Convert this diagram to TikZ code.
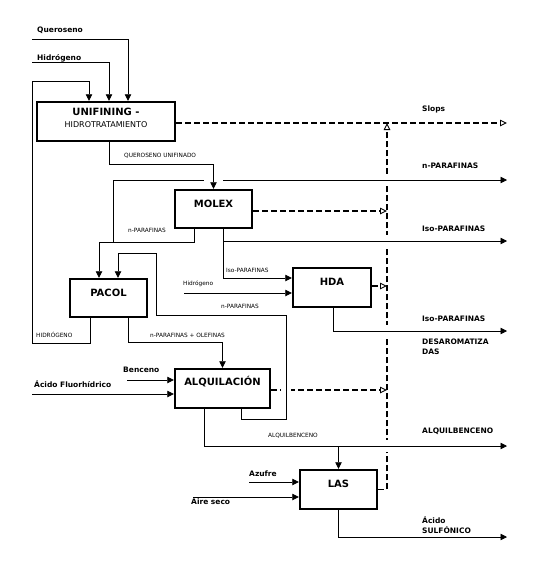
\documentclass[tikz,border=0pt]{standalone}
\usepackage{fontspec}
\setmainfont{DejaVu Sans}
\usetikzlibrary{arrows.meta}
\begin{document}
\begin{tikzpicture}[x=1pt,y=-1pt,
  box/.style={draw, line width=2.4pt, fill=white, inner sep=0pt},
  ttl/.style={font=\bfseries\fontsize{10}{12}\selectfont, text height=7.3pt, text depth=0pt, inner sep=0pt},
  lbl/.style={font=\bfseries\fontsize{7.5}{10}\selectfont, anchor=base west, inner sep=0pt},
  sml/.style={font=\fontsize{5.8}{7}\selectfont, anchor=base west, inner sep=0pt},
  ln/.style={line width=0.75pt},
  arr/.style={ln, -{Triangle[length=6.5pt,width=6.5pt]}},
  dsh/.style={line width=1.2pt, dash pattern=on 6pt off 3pt, -{Triangle[open,length=7pt,width=6.5pt,line width=0.9pt]}},
  gapfill/.style={fill=white}]
\useasboundingbox (0,0) rectangle (540,566);

% ---------- boxes ----------
\node[box, minimum width=138pt, minimum height=39pt,
  label={[name=unifT, align=center, inner sep=0pt, yshift=4pt]center:{\bfseries\fontsize{10}{12}\selectfont UNIFINING -}\\{\fontsize{8}{12}\selectfont HIDROTRATAMIENTO}}]
  (unif) at (106,121.5) {};
\node[box, minimum width=77pt, minimum height=38pt, label={[ttl, name=molexT, yshift=5.5pt]center:MOLEX}] (molex) at (213.5,209) {};
\node[box, minimum width=78pt, minimum height=39pt, label={[ttl, name=hdaT, yshift=6pt]center:HDA}] (hda) at (332,287.5) {};
\node[box, minimum width=77pt, minimum height=38pt, label={[ttl, name=pacolT, yshift=5.5pt]center:PACOL}] (pacol) at (108.5,298) {};
\node[box, minimum width=95pt, minimum height=39pt, label={[ttl, name=alqT, yshift=6.5pt]center:ALQUILACIÓN}] (alq) at (222.5,388.5) {};
\node[box, minimum width=77pt, minimum height=39pt, label={[ttl, name=lasT, yshift=5.5pt]center:LAS}] (las) at (338.5,489.5) {};

% ---------- labels ----------
\node[lbl] (tQ) at (37,32) {Queroseno};
\node[lbl] (tH) at (37,60) {Hidrógeno};
\node[sml] (tQU) at (124,157) {QUEROSENO UNIFINADO};
\node[lbl] (tSl) at (422,111) {Slops};
\node[lbl] (tnP) at (422,168) {n-PARAFINAS};
\node[lbl] (tiP) at (422,231) {Iso-PARAFINAS};
\node[sml] (snP1) at (128,232) {n-PARAFINAS};
\node[sml] (siP) at (226,272) {Iso-PARAFINAS};
\node[sml] (sH) at (183,285) {Hidrógeno};
\node[sml] (snP2) at (221,308) {n-PARAFINAS};
\node[sml] (sH2) at (36,337) {HIDRÓGENO};
\node[sml] (snPO) at (150,337) {n-PARAFINAS + OLEFINAS};
\node[lbl] (tiP2) at (422,321) {Iso-PARAFINAS};
\node[lbl] (tDes) at (422,344) {DESAROMATIZA};
\node[lbl] (tDas) at (422,354) {DAS};
\node[lbl] (tBz) at (123,372) {Benceno};
\node[lbl] (tAF) at (34,387) {Ácido Fluorhídrico};
\node[sml] (sAB) at (268,437) {ALQUILBENCENO};
\node[lbl] (tAB) at (422,433) {ALQUILBENCENO};
\node[lbl] (tAz) at (249,476) {Azufre};
\node[lbl] (tAi) at (191,504) {Aire seco};
\node[lbl] (tAc) at (422,523) {Ácido};
\node[lbl] (tSu) at (422,533) {SULFÓNICO};

% ---------- coordinates ----------
\coordinate (q0) at (32,39);
\coordinate (h0) at (32,62);
\coordinate (slopsE) at (507,123);
\coordinate (vtop) at (387,123);
\coordinate (jn1) at (113,242);
\coordinate (nparE) at (507,180);
\coordinate (jn2) at (223,241);
\coordinate (isoE) at (507,241);
\coordinate (hh) at (184,293);
\coordinate (iso2E) at (507,331);
\coordinate (bz) at (127,380);
\coordinate (af) at (32,394);
\coordinate (alqE) at (507,446);
\coordinate (jn3) at (338.5,446);
\coordinate (az) at (249,482);
\coordinate (ai) at (193,497);
\coordinate (sulE) at (507,537);

% ---------- dashed (waste) lines ----------
\draw[dsh] ([yshift=-1.5pt]unif.east) -- (slopsE);
\draw[dsh] (las.east) -- (387,489.5) -- (vtop);
\draw[dsh] ([yshift=-2pt]molex.east) -- (387,211);
\draw[dsh] ([yshift=1.5pt]hda.east) -- (387,286);
\draw[dsh] ([yshift=-1.5pt]alq.east) -- (387,390);

% gaps where solid lines pass over
\fill[gapfill] (383.5,174) rectangle (390.5,186);
\fill[gapfill] (383.5,235) rectangle (390.5,247);
\fill[gapfill] (383.5,325) rectangle (390.5,337);
\fill[gapfill] (383.5,440) rectangle (390.5,452);
\fill[gapfill] (281,385) rectangle (291,395);

% n-PARAFINAS output (passes under the unifined kerosene line)
\draw[arr] (jn1) |- (nparE);
\fill[gapfill] (204,176) rectangle (223,184);

% ---------- solid connectors ----------
\draw[arr] (q0) -| ([xshift=22pt]unif.north);
\draw[arr] (h0) -| ([xshift=3pt]unif.north);
\draw[arr] ([xshift=-18.5pt]pacol.south) -- (90,343) -| (32,81) -| ([xshift=-17pt]unif.north);
\draw[arr] ([xshift=3pt]unif.south) |- (213.5,164) -- (molex.north);
\draw[arr] ([xshift=-19.5pt]molex.south) |- (99,242) -- ([xshift=-9.5pt]pacol.north);
\draw[arr] ([xshift=9.5pt]molex.south) |- ([yshift=9.5pt]hda.west);
\draw[arr] (jn2) -- (isoE);
\draw[arr] (hh) -- (hh -| hda.west);
\draw[arr] ([xshift=1pt]hda.south) |- (iso2E);
\draw[arr] ([xshift=18.5pt]alq.south) |- (286,419) |- (156,315) |- (118,253) -- ([xshift=9.5pt]pacol.north);
\draw[arr] ([xshift=19.5pt]pacol.south) |- (222.5,342) -- (alq.north);
\draw[arr] (bz) -- (bz -| alq.west);
\draw[arr] (af) -- (af -| alq.west);
\draw[arr] ([xshift=-18.5pt]alq.south) |- (alqE);
\draw[arr] (jn3) -- (las.north);
\draw[arr] (az) -- (az -| las.west);
\draw[arr] (ai) -- (ai -| las.west);
\draw[arr] (las.south) |- (sulE);
\end{tikzpicture}
\end{document}
